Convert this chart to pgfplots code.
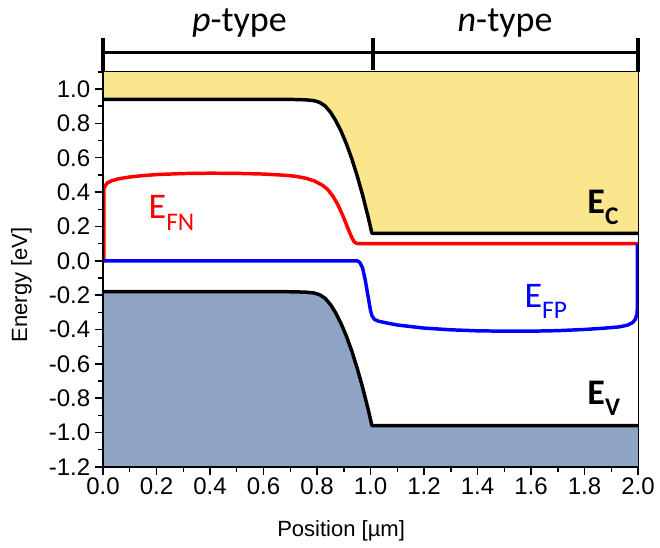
\documentclass[border=0pt]{standalone}
\usepackage{fontspec}
\setmainfont{Liberation Sans}
\newfontfamily\calibri{Carlito}
\usepackage{pgfplots}
\pgfplotsset{compat=1.18}
\definecolor{cbyellow}{RGB}{250,230,140}
\definecolor{cbblue}{RGB}{143,163,196}
\begin{document}
\begin{tikzpicture}
\begin{axis}[
  scale only axis, width=401pt, height=296pt,
  xmin=0, xmax=2, ymin=-1.2, ymax=1.1,
  clip=false, axis on top,
  xtick={0,0.2,0.4,0.6,0.8,1.0,1.2,1.4,1.6,1.8,2.0},
  ytick={-1.2,-1.0,-0.8,-0.6,-0.4,-0.2,0,0.2,0.4,0.6,0.8,1.0},
  minor xtick={0.1,0.3,0.5,0.7,0.9,1.1,1.3,1.5,1.7,1.9},
  minor ytick={-1.1,-0.9,-0.7,-0.5,-0.3,-0.1,0.1,0.3,0.5,0.7,0.9,1.1},
  tick align=outside, xtick pos=lower, ytick pos=left,
  major tick length=6pt, minor tick length=3.5pt,
  every tick/.style={black, line width=1.1pt},
  axis line style={line width=0.8pt},
  xticklabel={\fontsize{18}{20}\selectfont\pgfmathprintnumber[fixed, fixed zerofill, precision=1, assume math mode=true]{\tick}},
  yticklabel={\fontsize{18}{20}\selectfont\pgfmathprintnumber[fixed, fixed zerofill, precision=1, assume math mode=true]{\tick}},
  xticklabel style={yshift=1pt},
  xlabel={Position [µm]}, ylabel={Energy [eV]},
  label style={font=\fontsize{16.5}{19}\selectfont},
  xlabel style={at={(axis description cs:0.445,-0.177)}, anchor=base, inner sep=0pt},
  ylabel style={at={(axis description cs:-0.172,0.461)}, anchor=north, inner sep=0pt},
]
% conduction band fill
\addplot[fill=cbyellow, draw=none] coordinates {
 (0,0.94) (0.68,0.94) (0.72,0.939) (0.76,0.937) (0.79,0.932) (0.81,0.922) (0.83,0.902) (0.85,0.866) (0.87,0.816)
 (0.89,0.754) (0.91,0.680) (0.93,0.594) (0.95,0.495) (0.97,0.385) (0.99,0.262)
 (1.00,0.195) (1.005,0.16) (2.0,0.16) (2.0,1.1) (0,1.1)} -- cycle;
% valence band fill
\addplot[fill=cbblue, draw=none] coordinates {
 (0,-0.18) (0.68,-0.18) (0.72,-0.181) (0.76,-0.183) (0.79,-0.188) (0.81,-0.198) (0.83,-0.218) (0.85,-0.254) (0.87,-0.304)
 (0.89,-0.366) (0.91,-0.440) (0.93,-0.526) (0.95,-0.625) (0.97,-0.735) (0.99,-0.858)
 (1.00,-0.925) (1.005,-0.96) (2.0,-0.96) (2.0,-1.2) (0,-1.2)} -- cycle;
% Ec
\addplot[black, line width=2.6pt, line join=round] coordinates {
 (0,0.94) (0.68,0.94) (0.72,0.939) (0.76,0.937) (0.79,0.932) (0.81,0.922) (0.83,0.902) (0.85,0.866) (0.87,0.816)
 (0.89,0.754) (0.91,0.680) (0.93,0.594) (0.95,0.495) (0.97,0.385) (0.99,0.262)
 (1.00,0.195) (1.005,0.16) (2.0,0.16)};
% Ev
\addplot[black, line width=2.6pt, line join=round] coordinates {
 (0,-0.18) (0.68,-0.18) (0.72,-0.181) (0.76,-0.183) (0.79,-0.188) (0.81,-0.198) (0.83,-0.218) (0.85,-0.254) (0.87,-0.304)
 (0.89,-0.366) (0.91,-0.440) (0.93,-0.526) (0.95,-0.625) (0.97,-0.735) (0.99,-0.858)
 (1.00,-0.925) (1.005,-0.96) (2.0,-0.96)};
% EFN
\addplot[red, line width=2.6pt, line join=round] coordinates {
 (0.003,0) (0.003,0.42) (0.008,0.435) (0.015,0.452) (0.03,0.465) (0.06,0.478) (0.1,0.488) (0.15,0.496)
 (0.2,0.502) (0.3,0.508) (0.4,0.51) (0.5,0.509) (0.6,0.505) (0.68,0.498) (0.72,0.492) (0.76,0.48)
 (0.79,0.465) (0.82,0.44) (0.84,0.415) (0.86,0.375) (0.88,0.32) (0.9,0.25) (0.915,0.19) (0.93,0.135)
 (0.94,0.108) (0.95,0.1) (2.0,0.1)};
% EFP
\addplot[blue, line width=2.6pt, line join=round] coordinates {
 (0,0) (0.95,0) (0.96,-0.01) (0.97,-0.04) (0.98,-0.11) (0.99,-0.2) (1.0,-0.29) (1.006,-0.322)
 (1.015,-0.342) (1.03,-0.352) (1.06,-0.362) (1.1,-0.374) (1.2,-0.392) (1.3,-0.402) (1.4,-0.408)
 (1.5,-0.41) (1.6,-0.41) (1.7,-0.407) (1.8,-0.4) (1.87,-0.393) (1.93,-0.385) (1.96,-0.375)
 (1.98,-0.36) (1.99,-0.34) (1.996,-0.31) (1.997,-0.28) (1.997,0.1)};
% thick left/bottom axis lines
\draw[line width=2pt] (rel axis cs:0,0) -- (rel axis cs:0,1);
\draw[line width=2pt] (rel axis cs:0,0) -- (rel axis cs:1,0);
% bracket
\draw[line width=2.6pt] (axis cs:0,1.212) -- (axis cs:2,1.212);
\draw[line width=2.6pt] (axis cs:0,1.1) -- (axis cs:0,1.30);
\draw[line width=2.6pt] (axis cs:1.009,1.11) -- (axis cs:1.009,1.30);
\draw[line width=2.6pt] (axis cs:2,1.1) -- (axis cs:2,1.30);
\node[anchor=base, inner sep=0pt, font=\calibri\fontsize{27}{27}\selectfont] at (axis cs:0.51,1.338) {\textit{p}-type};
\node[anchor=base, inner sep=0pt, font=\calibri\fontsize{27}{27}\selectfont] at (axis cs:1.503,1.338) {\textit{n}-type};
% band labels
\node[anchor=base west, inner sep=0pt, text=red, font=\calibri\fontsize{27}{27}\selectfont] at (axis cs:0.17,0.249) {E\raisebox{-9pt}{\fontsize{19}{19}\selectfont FN}};
\node[anchor=base west, inner sep=0pt, text=blue, font=\calibri\fontsize{27}{27}\selectfont] at (axis cs:1.575,-0.275) {E\raisebox{-8pt}{\fontsize{19}{19}\selectfont FP}};
\node[anchor=base west, inner sep=0pt, font=\calibri\bfseries\fontsize{27}{27}\selectfont] at (axis cs:1.81,0.275) {E\raisebox{-8pt}{\fontsize{19}{19}\selectfont C}};
\node[anchor=base west, inner sep=0pt, font=\calibri\bfseries\fontsize{27}{27}\selectfont] at (axis cs:1.81,-0.839) {E\raisebox{-8pt}{\fontsize{19}{19}\selectfont V}};
\coordinate (bl) at (axis description cs:-0.1925,-0.205);
\coordinate (tr) at (axis description cs:1.041,1.182);
\end{axis}
\pgfresetboundingbox
\path[use as bounding box] (bl) rectangle (tr);
\end{tikzpicture}
\end{document}
